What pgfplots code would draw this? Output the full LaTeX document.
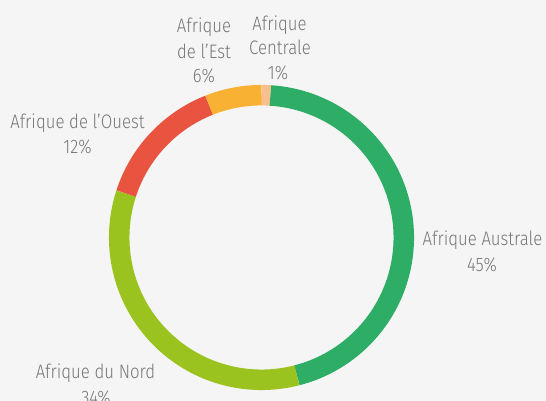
\documentclass[border=0pt]{standalone}
\usepackage{pgfplots}
\pgfplotsset{compat=1.18}
\usepackage{pgfplotstable}
\usepackage{fontspec}
\setmainfont{Fira Sans Light}[FakeStretch=0.86]
\definecolor{bgc}{HTML}{F5F5F5}
\definecolor{txt}{HTML}{777777}
\definecolor{cAus}{HTML}{2EAD67}
\definecolor{cNord}{HTML}{9AC31F}
\definecolor{cOuest}{HTML}{E85440}
\definecolor{cEst}{HTML}{F8B133}
\definecolor{cCen}{HTML}{F9C08E}
% region shares (percent), clockwise from 12 o'clock
\pgfplotstableread{
region   start value
Centrale 0     1
Australe 1     45
Nord     46    34
Ouest    80    14
Est      94    6
}\shares
\newcommand{\cx}{261.5}
\newcommand{\cy}{163.5}
\newcommand{\rr}{142.3}
\newcommand{\getseg}[2]{%
  \pgfplotstablegetelem{#1}{start}\of\shares
  \pgfmathsetmacro\tmpa{\pgfplotsretval*3.6}%
  \pgfplotstablegetelem{#1}{value}\of\shares
  \pgfmathsetmacro\tmpb{\tmpa+\pgfplotsretval*3.6}%
  \expandafter\xdef\csname segA#2\endcsname{\tmpa}%
  \expandafter\xdef\csname segB#2\endcsname{\tmpb}}
\getseg{0}{Cen}\getseg{1}{Aus}\getseg{2}{Nord}\getseg{3}{Ouest}\getseg{4}{Est}
\newcommand{\seg}[1]{%
  \edef\tmpplot{\noexpand\addplot[draw=c#1, line width=20.5bp, line cap=butt,
    samples=80, domain=\csname segA#1\endcsname:\csname segB#1\endcsname]
    ({\cx+\rr*sin(x)},{\cy+\rr*cos(x)});}\tmpplot}
\tikzset{lab/.style={font=\fontsize{19.5bp}{23bp}\selectfont, text=txt, anchor=base, inner sep=0pt}}
\begin{document}
\begin{tikzpicture}
\clip (0,0) rectangle (546bp,401bp);
\begin{axis}[
  at={(0,0)}, anchor=south west,
  scale only axis, width=546bp, height=401bp,
  xmin=0, xmax=546, ymin=0, ymax=401,
  hide axis, clip=false,
]
\fill[bgc] (axis cs:0,0) rectangle (axis cs:546,401);
\seg{Cen}
\seg{Aus}
\seg{Nord}
\seg{Ouest}
\seg{Est}
\node[lab] at (axis cs:482.5,155) {Afrique Australe};
\node[lab] at (axis cs:482,129.3) {45\%};
\node[lab] at (axis cs:95.5,23) {Afrique du Nord};
\node[lab] at (axis cs:96,-3) {34\%};
\node[lab] at (axis cs:77.5,272) {Afrique de l’Ouest};
\node[lab] at (axis cs:77.5,247) {12\%};
\node[lab] at (axis cs:204,368) {Afrique};
\node[lab] at (axis cs:204,342) {de l’Est};
\node[lab] at (axis cs:204,318) {6\%};
\node[lab] at (axis cs:279.5,370.5) {Afrique};
\node[lab] at (axis cs:280,346) {Centrale};
\node[lab] at (axis cs:278,321) {1\%};
\end{axis}
\end{tikzpicture}
\end{document}
